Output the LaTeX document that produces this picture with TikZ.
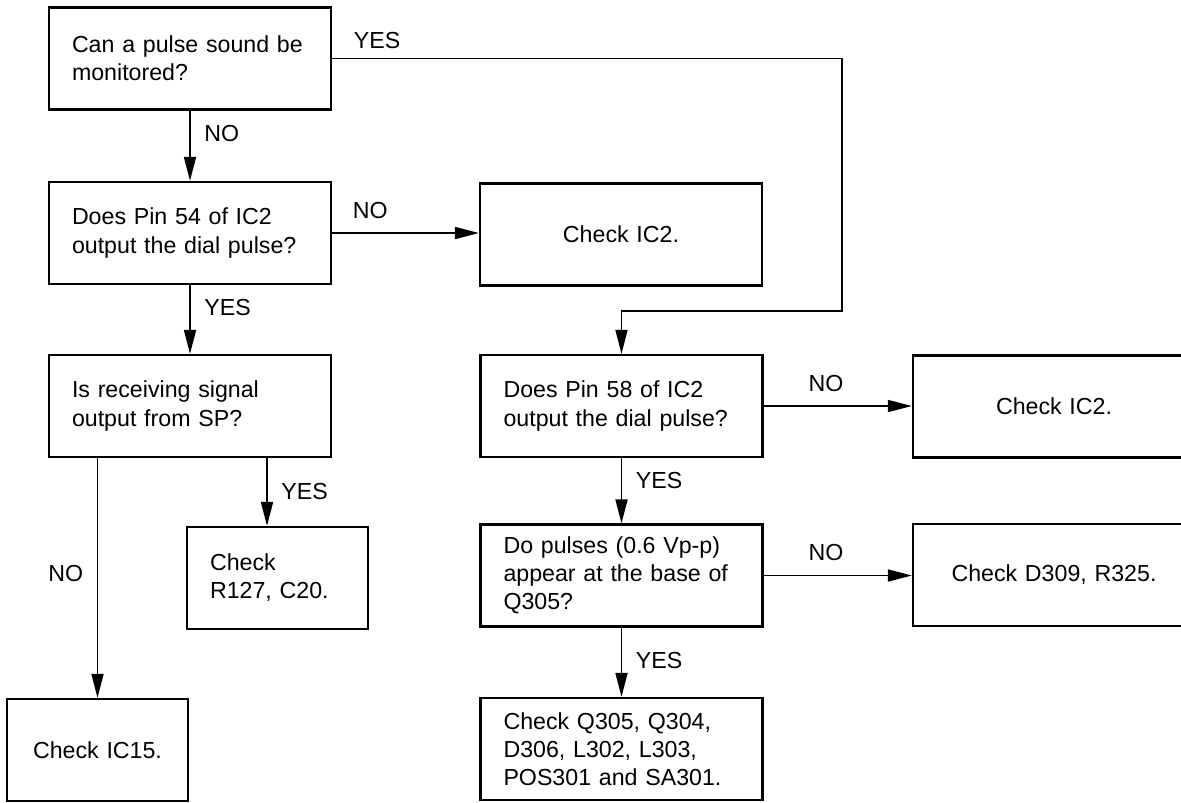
\documentclass[tikz,border=0pt]{standalone}
\usepackage{fontspec}
\setmainfont{Liberation Sans}
\usetikzlibrary{arrows.meta}

\tikzset{
  query box/.style={draw,line width=1.3pt,minimum width=5.64cm,minimum height=2.04cm,
    text width=4.72cm,inner xsep=0.46cm,inner ysep=0pt,align=left,
    font=\fontsize{13.2}{16}\selectfont},
  check box/.style={query box,align=center},
  small box/.style={minimum width=3.62cm,text width=2.70cm},
  flow line/.style={line width=1pt,-{Triangle[length=4.8mm,width=2.4mm]}},
  flow tag/.style={font=\fontsize{13.2}{16}\selectfont,inner sep=2.7mm}
}

\begin{document}
\begin{tikzpicture}[x=1cm,y=1cm]
      \useasboundingbox (0,0) rectangle (23.62,-16.04);
      \clip (0,0) rectangle (23.62,-16.04);
      % left column
      \node[query box] (pulse) at (3.80,-1.17) {Can a pulse sound be\\monitored?};
      \node[query box] (pin54) at (3.80,-4.66) {Does Pin 54 of IC2\\output the dial pulse?};
      \node[query box] (spout) at (3.80,-8.12) {Is receiving signal\\output from SP?};
      \node[query box,small box] (chkR) at (5.55,-11.56) {Check\\R127, C20.};
      \node[check box,small box] (chkIC15) at (1.95,-15.00) {Check IC15.};
      % middle column
      \node[check box] (chkIC2a) at (12.42,-4.69) {Check IC2.};
      \node[query box] (pin58) at (12.43,-8.12) {Does Pin 58 of IC2\\output the dial pulse?};
      \node[query box] (base) at (12.43,-11.51) {Do pulses (0.6 Vp-p)\\appear at the base of\\Q305?};
      \node[query box] (chkQ) at (12.43,-14.98) {Check Q305, Q304,\\D306, L302, L303,\\POS301 and SA301.};
      % right column
      \node[check box] (chkIC2b) at (21.08,-8.13) {Check IC2.};
      \node[check box] (chkD) at (21.08,-11.50) {Check D309, R325.};

      \coordinate (loop) at (16.84,-6.22);
      \coordinate (spyes) at (5.34,-8.12);

      \draw[flow line] (pulse) -- node[flow tag,anchor=west,pos=0.32] {NO} (pin54);
      \draw[flow line] (pulse.east) -| node[flow tag,anchor=south,pos=0.044,yshift=-1mm] {YES} (loop) -| (pin58.north);
      \draw[flow line] (pin54.east) -- node[flow tag,anchor=south,pos=0.26] {NO} (pin54.east -| chkIC2a.west);
      \draw[flow line] (pin54) -- node[flow tag,anchor=west,pos=0.33] {YES} (spout);
      \draw[flow line] (spout.south -| spyes) -- node[flow tag,anchor=west,pos=0.5] {YES} (chkR.north -| spyes);
      \draw[flow line] (spout.south -| chkIC15.north) -- node[flow tag,anchor=east,pos=0.48] {NO} (chkIC15.north);
      \draw[flow line] (pin58.east) -- node[flow tag,anchor=south,pos=0.42] {NO} (pin58.east -| chkIC2b.west);
      \draw[flow line] (pin58) -- node[flow tag,anchor=west,pos=0.34] {YES} (base);
      \draw[flow line] (base.east) -- node[flow tag,anchor=south,pos=0.42] {NO} (base.east -| chkD.west);
      \draw[flow line] (base) -- node[flow tag,anchor=west,pos=0.47] {YES} (chkQ);
    \end{tikzpicture}
\end{document}
